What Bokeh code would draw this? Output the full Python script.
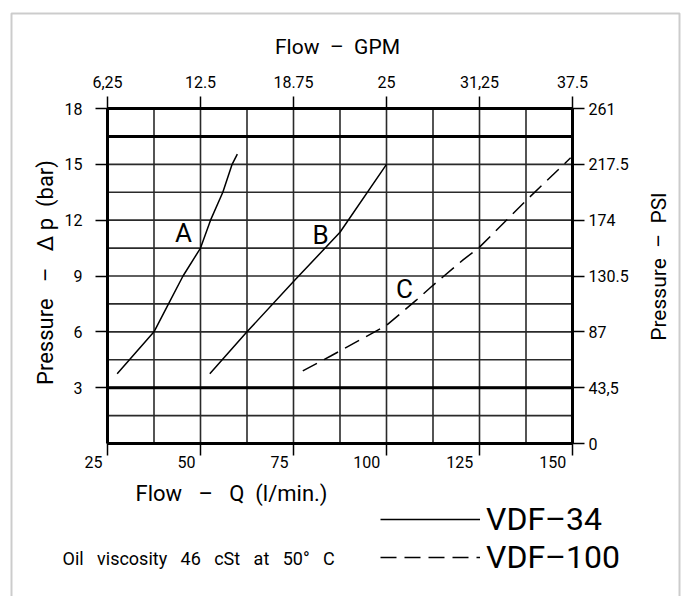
import math
from bokeh.plotting import figure
from bokeh.models import (Range1d, LinearAxis, FixedTicker, Label, Legend, LegendItem,
                          BoxAnnotation)
from bokeh.embed import file_html
from bokeh.resources import INLINE

FONT = "Roboto"
NB = "\u00a0"
DASH = "\u2013"

# ---- data ----
flow_ticks = [25, 50, 75, 100, 125, 150]
flow_grid = [25, 37.5, 50, 62.5, 75, 87.5, 100, 112.5, 125, 137.5, 150]
gpm_ticks = [6.25, 12.5, 18.75, 25, 31.25, 37.5]
gpm_labels = ["6,25", "12.5", "18.75", "25", "31,25", "37.5"]
bar_ticks = [3, 6, 9, 12, 15, 18]
bar_grid = [0, 1.5, 3, 4.5, 6, 7.5, 9, 10.5, 12, 13.5, 15, 16.5, 18]
bar_heavy = [3, 16.5]
psi_ticks = [0, 43.5, 87, 130.5, 174, 217.5, 261]
psi_labels = ["0", "43,5", "87", "130.5", "174", "217.5", "261"]

a_flow = [27.6, 37.5, 41.4, 45.3, 50.0, 52.7, 56.0, 58.5, 59.9]
a_bar = [3.75, 6.0, 7.5, 9.0, 10.5, 12.0, 13.5, 15.0, 15.55]
b_flow = [52.5, 62.5, 75.0, 87.5, 100.0]
b_bar = [3.75, 6.0, 8.7, 11.35, 15.0]
c_flow = [77.5, 85.0, 100.0, 108.0, 112.5, 120.5, 125.0, 137.5, 149.5]
c_bar = [3.9, 4.7, 6.35, 7.7, 8.5, 9.85, 10.55, 13.05, 15.35]

FLOW_MIN, FLOW_MAX = flow_ticks[0], flow_ticks[-1]
BAR_MIN, BAR_MAX = bar_grid[0], bar_grid[-1]
GPM_PER_LPM = gpm_ticks[-1] / FLOW_MAX
PSI_PER_BAR = psi_ticks[-1] / BAR_MAX

# ---- layout: the frame fills the whole canvas; the grid box sits inside it ----
W, H = 687, 596
GX0, GX1, GY0, GY1 = 107, 572, 108, 443      # grid box in pixels (left, right, top, bottom)
fx = (FLOW_MAX - FLOW_MIN) / (GX1 - GX0)
fy = (BAR_MAX - BAR_MIN) / (GY1 - GY0)
x_start, x_end = FLOW_MIN - GX0 * fx, FLOW_MAX + (W - GX1) * fx
y_start, y_end = BAR_MIN - (H - GY1) * fy, BAR_MAX + GY0 * fy

p = figure(width=W, height=H, output_backend="svg", toolbar_location=None, title=None,
           x_range=Range1d(x_start, x_end), y_range=Range1d(y_start, y_end),
           x_axis_location=None, y_axis_location=None, min_border=0,
           background_fill_color="white", border_fill_color="white", outline_line_color=None)
p.grid.visible = False
p.extra_x_ranges = {"gpm": Range1d(x_start * GPM_PER_LPM, x_end * GPM_PER_LPM)}
p.extra_y_ranges = {"psi": Range1d(y_start * PSI_PER_BAR, y_end * PSI_PER_BAR)}

# grid lines
p.segment(x0=flow_grid, y0=BAR_MIN, x1=flow_grid, y1=BAR_MAX,
          line_color="#2a2a2a", line_width=1.6)
p.segment(x0=FLOW_MIN, y0=bar_grid, x1=FLOW_MAX, y1=bar_grid,
          line_color="#2a2a2a", line_width=1.6)
p.segment(x0=FLOW_MIN, y0=bar_heavy, x1=FLOW_MAX, y1=bar_heavy,
          line_color="black", line_width=3)


def style_axis(ax, standoff):
    ax.major_tick_out = 12
    ax.major_tick_in = 0
    ax.minor_tick_out = 0
    ax.minor_tick_in = 0
    ax.axis_line_width = 3
    ax.axis_line_color = "black"
    ax.major_tick_line_width = 1.5
    ax.major_tick_line_color = "black"
    ax.major_label_text_font = FONT
    ax.major_label_text_font_size = "16px"
    ax.major_label_text_color = "black"
    ax.major_label_standoff = standoff


bottom = LinearAxis(fixed_location=BAR_MIN, bounds=(FLOW_MIN, FLOW_MAX),
                    ticker=FixedTicker(ticks=flow_ticks),
                    major_label_overrides={t: str(t) + NB * (7 if t < 100 else 10)
                                           for t in flow_ticks})
style_axis(bottom, -3)
p.add_layout(bottom, "below")

left = LinearAxis(fixed_location=FLOW_MIN, bounds=(BAR_MIN, BAR_MAX),
                  ticker=FixedTicker(ticks=bar_ticks))
style_axis(left, 13)
p.add_layout(left, "left")

top = LinearAxis(x_range_name="gpm", fixed_location=BAR_MAX,
                 bounds=(gpm_ticks[0], gpm_ticks[-1]),
                 ticker=FixedTicker(ticks=gpm_ticks),
                 major_label_overrides=dict(zip(gpm_ticks, gpm_labels)))
style_axis(top, 9)
p.add_layout(top, "above")

right = LinearAxis(y_range_name="psi", fixed_location=FLOW_MAX,
                   bounds=(psi_ticks[0], psi_ticks[-1]),
                   ticker=FixedTicker(ticks=psi_ticks),
                   major_label_overrides=dict(zip(psi_ticks, psi_labels)))
style_axis(right, 4)
p.add_layout(right, "right")

# curves
rA = p.line(a_flow, a_bar, line_color="black", line_width=1.5)
rB = p.line(b_flow, b_bar, line_color="black", line_width=1.5)
rC = p.line(c_flow, c_bar, line_color="black", line_width=1.5, line_dash="16 8")

for txt, lx, ly in (("A", 45.4, 11.3), ("B", 82.3, 11.2), ("C", 104.8, 8.3)):
    p.add_layout(Label(x=lx, y=ly, text=txt, text_align="center", text_baseline="middle",
                       text_font=FONT, text_font_size="26px", text_color="black"))


def screen_label(text, sx, sy, size, align="center", angle=0.0):
    p.add_layout(Label(x=sx, y=H - sy, x_units="screen", y_units="screen", text=text,
                       text_align=align, text_baseline="middle", angle=angle,
                       text_font=FONT, text_font_size=size, text_color="black"))


# axis titles and notes
screen_label("Flow" + NB * 2 + DASH + NB * 2 + "GPM", 337, 46, "21px")
screen_label("Pressure" + NB * 3 + DASH + NB * 3 + "\u0394" + NB + "p" + NB * 2 + "(bar)",
             45, 272, "22px", angle=math.pi / 2)
screen_label("Pressure" + NB * 2 + DASH + NB * 2 + "PSI", 658, 266, "21px", angle=math.pi / 2)
screen_label("Flow" + NB * 3 + DASH + NB * 3 + "Q" + NB * 2 + "(l/min.)", 135, 493, "22px",
             align="left")
screen_label(NB.join(["Oil", "viscosity", "46", "cSt", "at", "50\u00b0", "C"]).replace(NB, NB * 3),
             62, 558, "18px", align="left")

# outer frame
p.add_layout(BoxAnnotation(left=11, right=679, top=H - 13, bottom=-10,
                           left_units="screen", right_units="screen",
                           top_units="screen", bottom_units="screen",
                           fill_alpha=0, line_color="#555555", line_width=2))

legend = Legend(items=[LegendItem(label="VDF" + DASH + "34", renderers=[rA]),
                       LegendItem(label="VDF" + DASH + "100", renderers=[rC])],
                location=(380, 20), orientation="vertical",
                glyph_width=100, glyph_height=30, label_height=30,
                label_standoff=6, spacing=0, padding=0, margin=0,
                label_text_font=FONT, label_text_font_size="32px",
                label_text_color="black",
                background_fill_alpha=0, border_line_alpha=0)
p.add_layout(legend)

open("out.html", "w").write(file_html(p, INLINE))
